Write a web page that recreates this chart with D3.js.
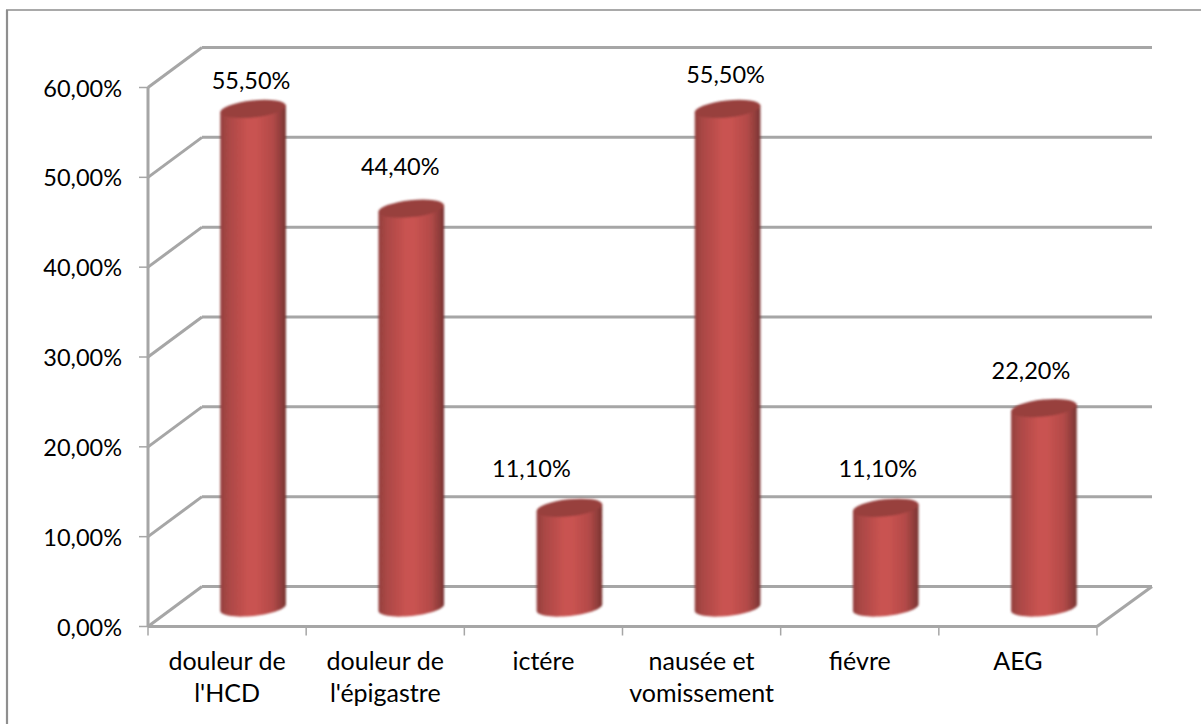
<!DOCTYPE html>
<html><head><meta charset="utf-8">
<script src="https://cdn.jsdelivr.net/npm/d3@7/dist/d3.min.js"></script>
<style>html,body{margin:0;background:#fff}svg{display:block}text{font-family:Lato,sans-serif;fill:#000}.yl,.vl{font-size:23.5px}.cl{font-size:25px}</style>
</head><body><svg id="c" width="1201" height="724"></svg>
<script>
const categories=[["douleur de","l'HCD"],["douleur de","l'épigastre"],["ictére"],["nausée et","vomissement"],["fiévre"],["AEG"]];
const values=[55.5,44.4,11.1,55.5,11.1,22.2];
const valueLabels=["55,50%","44,40%","11,10%","55,50%","11,10%","22,20%"];
const yTicks=[0,10,20,30,40,50,60];
const yTickLabels=["0,00%","10,00%","20,00%","30,00%","40,00%","50,00%","60,00%"];

const labelShiftX=[0,-9,-36,0,-6,-11];
const labelShiftY=[9,-5,-2,3,-2,0];

const svg=d3.select("#c");
const x=d3.scaleBand().domain(d3.range(values.length)).range([148,1097]);
const y=d3.scaleLinear().domain([0,60]).range([626.5,87.5]);
const dx=54,dy=-40, grey="#a6a6a6";

svg.append("path").attr("d","M7,724V10").attr("fill","none").attr("stroke","#8f8f8f").attr("stroke-width",2.2);
svg.append("path").attr("d","M6,10H1201").attr("fill","none").attr("stroke","#8c8c8c").attr("stroke-width",1.5);

const defs=svg.append("defs");
const g=defs.append("linearGradient").attr("id","body");
[[0,"#93403e"],[.12,"#aa4745"],[.42,"#c95351"],[.55,"#c95351"],[.8,"#b34a48"],[.93,"#8f3d3b"],[1,"#763230"]].forEach(s=>g.append("stop").attr("offset",s[0]).attr("stop-color",s[1]));
const blur=defs.append("filter").attr("id","soft").attr("x","-10%").attr("y","-10%").attr("width","120%").attr("height","120%");
blur.append("feGaussianBlur").attr("stdDeviation",0.8);

const line=(x1,y1,x2,y2)=>svg.append("line").attr("x1",x1).attr("y1",y1).attr("x2",x2).attr("y2",y2).attr("stroke",grey).attr("stroke-width",3);
yTicks.forEach(t=>{
  line(148,y(t),148+dx,y(t)+dy);
  line(148+dx,y(t)+dy,1097+dx+1,y(t)+dy);
  svg.append("line").attr("x1",139).attr("x2",148).attr("y1",y(t)).attr("y2",y(t)).attr("stroke",grey).attr("stroke-width",1.5);
});
line(148,y(0),148,y(60));
line(1097,y(0),1097+dx+1,y(0)+dy);
line(148,y(0),1097,y(0));
d3.range(values.length+1).forEach(i=>{
  const px=i<values.length?x(i):x.range()[1];
  svg.append("line").attr("x1",px).attr("x2",px).attr("y1",y(0)).attr("y2",y(0)+9).attr("stroke",grey).attr("stroke-width",1.5);
});

const rx=33,ry=8.5,tiltDeg=-6,offX=26,offY=-19;
const tiltRad=tiltDeg*Math.PI/180;
const ePoint=(cx,cy,t)=>[
  cx+rx*Math.cos(t)*Math.cos(tiltRad)-ry*Math.sin(t)*Math.sin(tiltRad),
  cy+rx*Math.cos(t)*Math.sin(tiltRad)+ry*Math.sin(t)*Math.cos(tiltRad)
];
const pathLine=d3.line();
const bars=svg.selectAll("g.bar").data(values).join("g").attr("class","bar").attr("filter","url(#soft)");
bars.each(function(v,i){
  const cx=x(i)+x.bandwidth()/2+offX, by=y(0)+offY, ty=y(v)+offY;
  const s=d3.select(this);
  const lower=d3.range(0,181,6).map(d=>ePoint(cx,by,d*Math.PI/180));
  const pts=[ePoint(cx,ty,0),...lower,ePoint(cx,ty,Math.PI)];
  s.append("path").attr("fill","url(#body)").attr("d",pathLine(pts)+"Z");
  s.append("ellipse").attr("cx",cx).attr("cy",ty).attr("rx",rx).attr("ry",ry)
   .attr("transform",`rotate(${tiltDeg} ${cx} ${ty})`).attr("fill","#983f3d");
});

svg.selectAll("text.yl").data(yTicks).join("text").attr("class","yl")
 .attr("x",122).attr("y",d=>y(d)+9).attr("text-anchor","end").text((d,i)=>yTickLabels[i]);
svg.selectAll("text.vl").data(values).join("text").attr("class","vl")
 .attr("x",(d,i)=>x(i)+x.bandwidth()/2+offX-2+labelShiftX[i]).attr("y",(d,i)=>y(d)+offY-29+labelShiftY[i]).attr("text-anchor","middle").text((d,i)=>valueLabels[i]);
categories.forEach((c,i)=>{
  c.forEach((t,j)=>svg.append("text").attr("class","cl").attr("x",x(i)+x.bandwidth()/2).attr("y",670+j*32).attr("text-anchor","middle").text(t));
});
</script></body></html>
